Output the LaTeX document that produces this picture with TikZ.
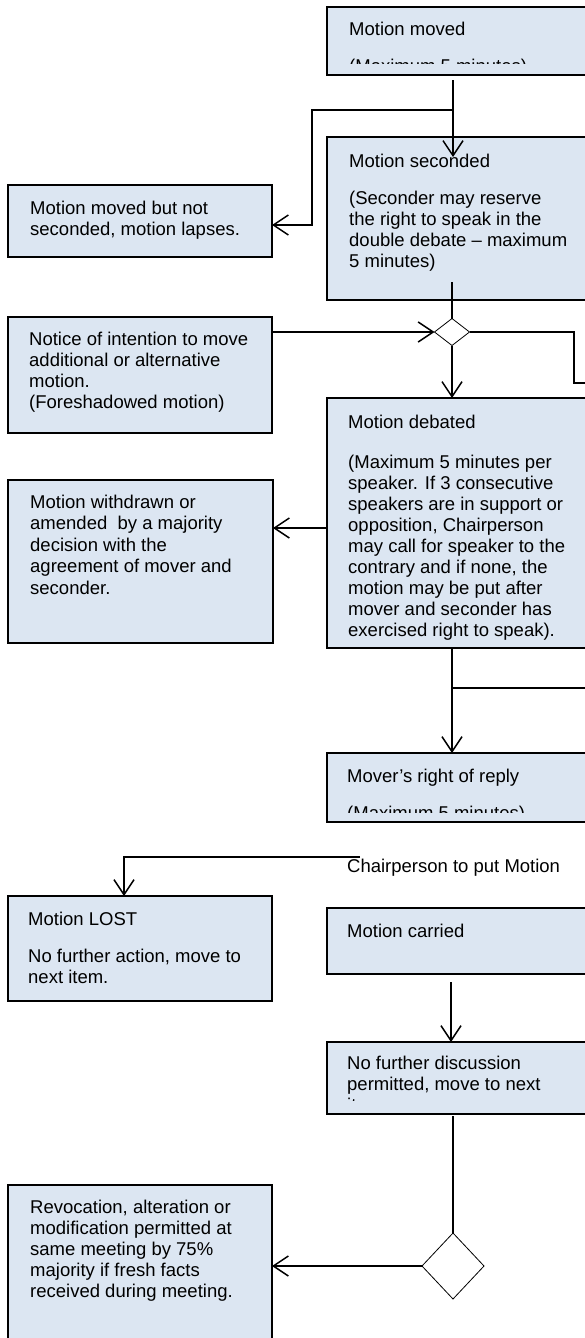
\documentclass[tikz,border=0pt]{standalone}
\usepackage{fontspec}
\setmainfont{Liberation Sans}
\usetikzlibrary{arrows.meta,shapes.geometric}
\definecolor{boxfill}{RGB}{220,230,242}
\begin{document}
\begin{tikzpicture}[x=1pt,y=-1pt,
  box/.style={draw=black, line width=2pt, fill=boxfill, rectangle, anchor=north west, inner sep=0pt, outer sep=0pt},
  dmd/.style={diamond, draw=black, line width=0.8pt, fill=white, inner sep=0pt, outer sep=0pt},
  conn/.style={draw=black, line width=1.5pt},
  arr/.style={conn, -{Straight Barb[length=15pt,width=20pt]}},
  lbl/.style={anchor=base west, inner sep=0pt, font=\fontsize{18.5pt}{21pt}\selectfont}]
\useasboundingbox (0,0) rectangle (585,1338);
\clip (0,0) rectangle (585,1338);

% ---------- boxes ----------
\node[box, minimum width=265pt, minimum height=68pt]  (moved)     at (327,7) {};
\node[box, minimum width=264pt, minimum height=72pt]  (notsec)    at (8,185) {};
\node[box, minimum width=265pt, minimum height=163pt] (seconded)  at (327,137) {};
\node[box, minimum width=264pt, minimum height=116pt] (notice)    at (8,317) {};
\node[box, minimum width=265pt, minimum height=250pt] (debated)   at (327,398) {};
\node[box, minimum width=265pt, minimum height=163pt] (withdrawn) at (8,480) {};
\node[box, minimum width=265pt, minimum height=69pt]  (mover)     at (327,753) {};
\node[box, minimum width=264pt, minimum height=105pt] (lost)      at (8,896) {};
\node[box, minimum width=265pt, minimum height=66pt]  (carried)   at (327,908) {};
\node[box, minimum width=265pt, minimum height=72pt]  (nofurther) at (327,1042) {};
\node[box, minimum width=264pt, minimum height=170pt] (revoc)     at (8,1185) {};

\node[dmd, minimum width=35pt, minimum height=27pt] (dia1) at (452,332) {};
\node[dmd, minimum width=62pt, minimum height=66pt] (dia2) at (453,1266) {};

% ---------- texts ----------
\begin{scope}
  \clip (327,7) rectangle (592,64);
  \node[lbl] (t-moved1) at (349,36) {Motion moved};
  \node[lbl] (t-moved2) at (349,73) {(Maximum 5 minutes)};
\end{scope}

\node[lbl] (t-ns1) at (30,214) {Motion moved but not};
\node[lbl] (t-ns2) at (30,235) {seconded, motion lapses.};

\node[lbl] (t-sec1) at (349,167) {Motion seconded};
\node[lbl] (t-sec2) at (349,204) {(Seconder may reserve};
\node[lbl] (t-sec3) at (349,225) {the right to speak in the};
\node[lbl] (t-sec4) at (349,246) {double debate – maximum};
\node[lbl] (t-sec5) at (349,267) {5 minutes)};

\node[lbl] (t-not1) at (29,345) {Notice of intention to move};
\node[lbl] (t-not2) at (29,366) {additional or alternative};
\node[lbl] (t-not3) at (29,387) {motion.};
\node[lbl] (t-not4) at (29,408) {(Foreshadowed motion)};

\node[lbl] (t-deb0) at (348,428) {Motion debated};
\node[lbl] (t-deb1) at (348,468) {(Maximum 5 minutes per};
\node[lbl] (t-deb2) at (348,489) {speaker. If 3 consecutive};
\node[lbl] (t-deb3) at (348,510) {speakers are in support or};
\node[lbl] (t-deb4) at (348,531) {opposition, Chairperson};
\node[lbl] (t-deb5) at (348,552) {may call for speaker to the};
\node[lbl] (t-deb6) at (348,573) {contrary and if none, the};
\node[lbl] (t-deb7) at (348,594) {motion may be put after};
\node[lbl] (t-deb8) at (348,615) {mover and seconder has};
\node[lbl] (t-deb9) at (348,636) {exercised right to speak).};

\node[lbl] (t-wd1) at (30,508) {Motion withdrawn or};
\node[lbl] (t-wd2) at (30,529.5) {amended\ \ by a majority};
\node[lbl] (t-wd3) at (30,551) {decision with the};
\node[lbl] (t-wd4) at (30,572.5) {agreement of mover and};
\node[lbl] (t-wd5) at (30,594) {seconder.};

\begin{scope}
  \clip (327,753) rectangle (592,812);
  \node[lbl] (t-mov1) at (347,782) {Mover’s right of reply};
  \node[lbl] (t-mov2) at (347,819) {(Maximum 5 minutes)};
\end{scope}

\node[lbl] (chair) at (347,872) {Chairperson to put Motion};

\node[lbl] (t-lost1) at (28,925) {Motion LOST};
\node[lbl] (t-lost2) at (28,962) {No further action, move to};
\node[lbl] (t-lost3) at (28,983) {next item.};

\node[lbl] (t-car1) at (347,937) {Motion carried};

\begin{scope}
  \clip (327,1042) rectangle (592,1100);
  \node[lbl] (t-nf1) at (347,1069) {No further discussion};
  \node[lbl] (t-nf2) at (347,1090) {permitted, move to next};
  \node[lbl] (t-nf3) at (347,1111) {item.};
\end{scope}

\node[lbl] (t-rv1) at (30,1213) {Revocation, alteration or};
\node[lbl] (t-rv2) at (30,1234) {modification permitted at};
\node[lbl] (t-rv3) at (30,1255) {same meeting by 75\%};
\node[lbl] (t-rv4) at (30,1276) {majority if fresh facts};
\node[lbl] (t-rv5) at (30,1297) {received during meeting.};

% ---------- connectors ----------
\coordinate (mx) at (453,110);
\draw[arr] ([yshift=-5pt]mx |- moved.south) -- (mx) -- ([yshift=-20pt]mx |- seconded.north);
\draw[arr] (mx) -| ([xshift=40pt]notsec.east |- 0,225) -- (notsec.east |- 0,225);

\draw[conn] ([yshift=18pt]dia1.north |- seconded.south) -- (dia1.north);
\draw[arr] (notice.east |- dia1.west) -- (dia1.west);
\coordinate (offR1) at (600,383);
\draw[conn] (dia1.east) -| (574,383) -- (offR1);
\draw[arr] (dia1.south) -- (dia1.south |- debated.north);

\draw[arr] (debated.west |- 0,528) -- (withdrawn.east |- 0,528);

\coordinate (dj) at (452,688);
\coordinate (offR2) at (600,688);
\draw[arr] (dj |- debated.south) -- (dj |- mover.north);
\draw[conn] (dj) -- (offR2);

\coordinate (cl) at (360,857);
\draw[arr] (cl) -| ([xshift=-16pt]lost.north);

\coordinate (cx) at (451,982);
\draw[arr] (cx) -- (cx |- nofurther.north);

\draw[conn] ([yshift=-2pt]dia2.north |- nofurther.south) -- (dia2.north);
\draw[arr] (dia2.west) -- (dia2.west -| revoc.east);
\end{tikzpicture}
\end{document}
